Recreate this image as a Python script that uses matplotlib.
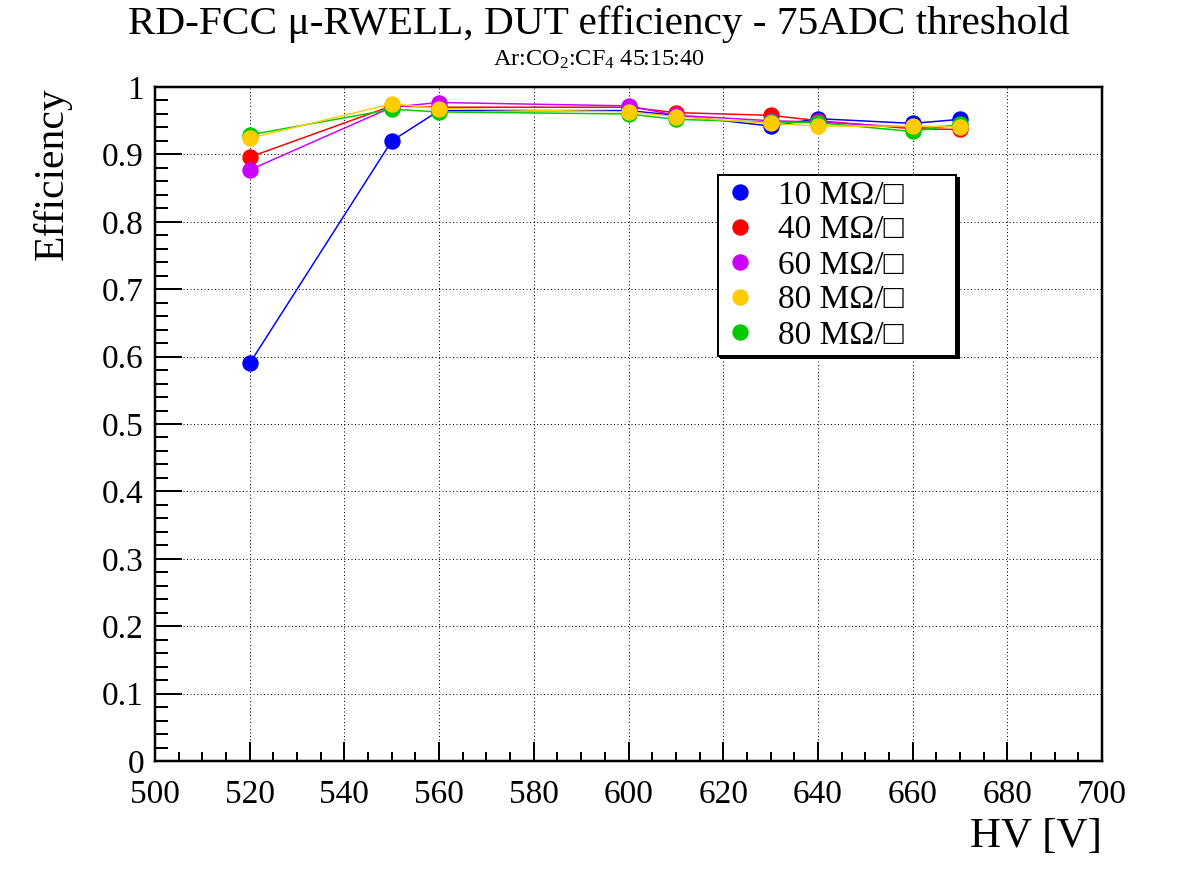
import matplotlib
matplotlib.use("Agg")
import matplotlib.pyplot as plt
from matplotlib.ticker import MultipleLocator, FormatStrFormatter

plt.rcParams['font.family'] = ['Liberation Serif', 'DejaVu Serif', 'DejaVu Sans']
plt.rcParams['mathtext.fontset'] = 'custom'
plt.rcParams['mathtext.rm'] = 'Liberation Serif'
plt.rcParams['mathtext.it'] = 'Liberation Serif:italic'

hv = [520, 550, 560, 600, 610, 630, 640, 660, 670]
eff_10 = [0.590, 0.920, 0.965, 0.965, 0.958, 0.942, 0.953, 0.946, 0.952]
eff_40 = [0.896, 0.972, 0.970, 0.970, 0.962, 0.958, 0.950, 0.938, 0.937]
eff_60 = [0.877, 0.970, 0.977, 0.972, 0.958, 0.950, 0.948, 0.940, 0.942]
eff_80a = [0.924, 0.975, 0.968, 0.963, 0.956, 0.946, 0.942, 0.942, 0.941]
eff_80b = [0.929, 0.967, 0.963, 0.960, 0.952, 0.948, 0.947, 0.934, 0.945]

labels = ["10 M\u03a9/\u25a1", "40 M\u03a9/\u25a1", "60 M\u03a9/\u25a1", "80 M\u03a9/\u25a1", "80 M\u03a9/\u25a1"]
colors = ["#0000ff", "#ff0000", "#cc00ff", "#ffcc00", "#00cc00"]
series = [eff_10, eff_40, eff_60, eff_80a, eff_80b]
zorders = [3, 4, 5, 7, 6]

PX = 0.72  # points per pixel at dpi 100

fig = plt.figure(figsize=(11.98, 8.76), dpi=100)
ax = fig.add_axes([155/1198, 1 - 761/876, (1102-155)/1198, (761-87)/876])

handles = []
for y, c, lab, z in zip(series, colors, labels, zorders):
    h, = ax.plot(hv, y, color=c, lw=1.5*PX, marker='o', ms=15*PX, mec=c, mfc=c,
                 label=lab, zorder=z)
    handles.append(h)

ax.set_xlim(500, 700)
ax.set_ylim(0, 1)
ax.xaxis.set_major_locator(MultipleLocator(20))
ax.xaxis.set_minor_locator(MultipleLocator(5))
ax.yaxis.set_major_locator(MultipleLocator(0.1))
ax.yaxis.set_minor_locator(MultipleLocator(0.02))
ax.yaxis.set_major_formatter(FormatStrFormatter('%g'))
ax.tick_params(which='both', direction='in', width=2*PX, labelsize=24, top=False, right=False)
ax.tick_params(which='major', axis='x', length=19*PX, pad=13.5)
ax.tick_params(which='minor', axis='x', length=9*PX)
ax.tick_params(which='major', axis='y', length=27*PX, pad=8)
ax.tick_params(which='minor', axis='y', length=13*PX)
for s in ax.spines.values():
    s.set_linewidth(2.5*PX)
ax.grid(True, which='major', color='black', ls=(0, (1, 2.5)), lw=1*PX)

ax.set_xlabel("HV [V]", fontsize=31, loc='right', labelpad=5)
ax.set_ylabel("Efficiency", fontsize=30, loc='top', labelpad=22)

fig.text(0.5, 1 - 24/876, "RD-FCC \u03bc-RWELL, DUT efficiency - 75ADC threshold",
         ha='center', va='center', fontsize=29.7)
fig.text(0.5, 1 - 60/876, "Ar:CO$_2$:CF$_4$ 45:15:40", ha='center', va='center', fontsize=17.5)

leg = ax.legend(handles=handles, loc='upper left',
                bbox_to_anchor=(718/1198, 1 - 350/876, 238/1198, 175/876),
                bbox_transform=fig.transFigure, mode='expand',
                fontsize=24, frameon=True, fancybox=False, edgecolor='black',
                framealpha=1, borderaxespad=0, handlelength=1.0, handletextpad=0.65,
                labelspacing=0.135, borderpad=0.15,
                shadow={'color': 'black', 'alpha': 1, 'ox': 2, 'oy': -2})
for lh in leg.legend_handles:
    lh.set_linestyle('None')
leg.get_frame().set_linewidth(2*PX)
leg.set_zorder(10)

fig.savefig("out.png", dpi=100)
